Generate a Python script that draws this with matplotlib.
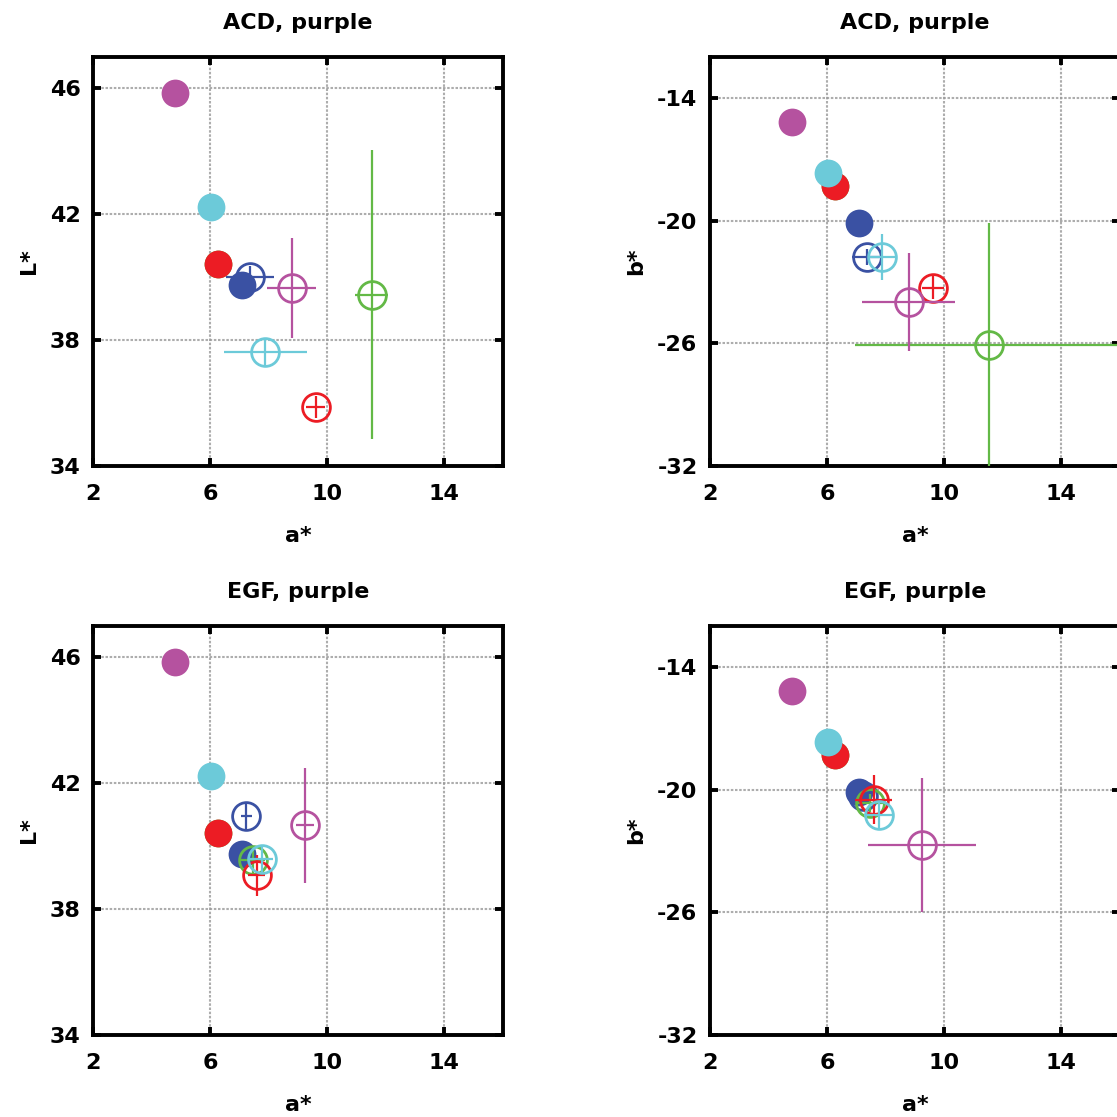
import numpy as np
import matplotlib
matplotlib.use('Agg')
import matplotlib.pyplot as plt

plt.rcParams['font.family'] = ['DejaVu Sans']
plt.rcParams['font.weight'] = 'bold'
plt.rcParams['font.size'] = 16
plt.rcParams['axes.unicode_minus'] = False

# series colours, same order in every array below
names = ['purple', 'cyan', 'red', 'blue', 'green']
colors = {'purple': '#b5529f', 'cyan': '#6ccad9', 'red': '#ec1c24',
          'blue': '#3a51a3', 'green': '#63b946'}

# reference (filled) points
ref_a = [4.80, 6.02, 6.28, 7.10, 6.28]
ref_L = [45.84, 42.24, 40.41, 39.75, 40.41]
ref_b = [-15.18, -17.68, -18.31, -20.11, -18.31]

# ACD treated (open) points with spread
acd_a = [8.78, 7.89, 9.61, 7.36, 11.51]
acd_L = [39.66, 37.63, 35.88, 40.01, 39.45]
acd_b = [-23.98, -21.79, -23.28, -21.79, -26.10]
acd_aerr_L = [0.84, 1.43, 0.32, 0.83, 0.55]
acd_Lerr = [1.59, 0.42, 0.35, 0.35, 4.58]
acd_aerr_b = [1.60, 0.50, 0.38, 0.50, 4.57]
acd_berr = [2.38, 1.12, 0.55, 0.40, 6.00]

# EGF treated (open) points with spread
egf_a = [9.24, 7.76, 7.59, 7.24, 7.47]
egf_L = [40.67, 39.58, 39.08, 40.95, 39.56]
egf_b = [-22.72, -21.26, -20.49, -20.30, -20.66]
egf_aerr_L = [0.30, 0.40, 0.30, 0.20, 0.40]
egf_Lerr = [1.83, 0.40, 0.65, 0.42, 0.40]
egf_aerr_b = [1.85, 0.50, 0.63, 0.30, 0.45]
egf_berr = [3.28, 0.65, 1.20, 0.30, 0.45]

x_ticks = [2, 6, 10, 14]
L_ticks = [34, 38, 42, 46]
b_ticks = [-32, -26, -20, -14]

fig = plt.figure(figsize=(11.17, 11.17), dpi=100)

W = 1117.0
def box(left, top, w=410, h=409):
    return [left / W, 1 - (top + h) / W, w / W, h / W]

panels = [
    (box(93, 57), 'ACD, purple', 'L*', ref_L, acd_a, acd_L, acd_aerr_L, acd_Lerr, (34, 47), L_ticks),
    (box(710, 57), 'ACD, purple', 'b*', ref_b, acd_a, acd_b, acd_aerr_b, acd_berr, (-32, -12), b_ticks),
    (box(93, 626), 'EGF, purple', 'L*', ref_L, egf_a, egf_L, egf_aerr_L, egf_Lerr, (34, 47), L_ticks),
    (box(710, 626), 'EGF, purple', 'b*', ref_b, egf_a, egf_b, egf_aerr_b, egf_berr, (-32, -12), b_ticks),
]

# drawing order of the colour groups (later groups sit on top)
group_order = ['blue', 'green', 'red', 'cyan', 'purple']

for rect, title, ylab, ref_y, oa, oy, xe, ye, ylim, yt in panels:
    ax = fig.add_axes(rect)
    ax.set_xlim(2, 16)
    ax.set_ylim(*ylim)
    ax.set_xticks(x_ticks)
    ax.set_yticks(yt)
    ax.grid(True, color='#999999', linestyle=(0, (1.2, 0.8)), linewidth=1.5, alpha=0.8)
    ax.set_axisbelow(True)

    z = 3
    for n in group_order:
        i = names.index(n)
        # open circle with crosshair error bars
        ax.errorbar(oa[i], oy[i], xerr=xe[i], yerr=ye[i], fmt='o', ms=20,
                    mfc='none', mec=colors[n], mew=2.0, ecolor=colors[n],
                    elinewidth=1.6, capsize=0, zorder=z)
        # filled reference circle
        ax.plot(ref_a[i], ref_y[i], 'o', ms=20, color=colors[n], mec='none', zorder=z + 0.5)
        z += 1

    ax.set_title(title, fontsize=16, fontweight='bold', pad=20)
    ax.set_xlabel('a*', fontsize=16, fontweight='bold', labelpad=16)
    ax.set_ylabel(ylab, fontsize=16, fontweight='bold', labelpad=8)
    for s in ax.spines.values():
        s.set_linewidth(2.8)
    ax.tick_params(direction='in', length=6, width=2.8, top=True, right=True,
                   labelsize=16)
    ax.tick_params(axis='x', pad=13)
    ax.tick_params(axis='y', pad=9)

fig.savefig('out.png', dpi=100, facecolor='white')
